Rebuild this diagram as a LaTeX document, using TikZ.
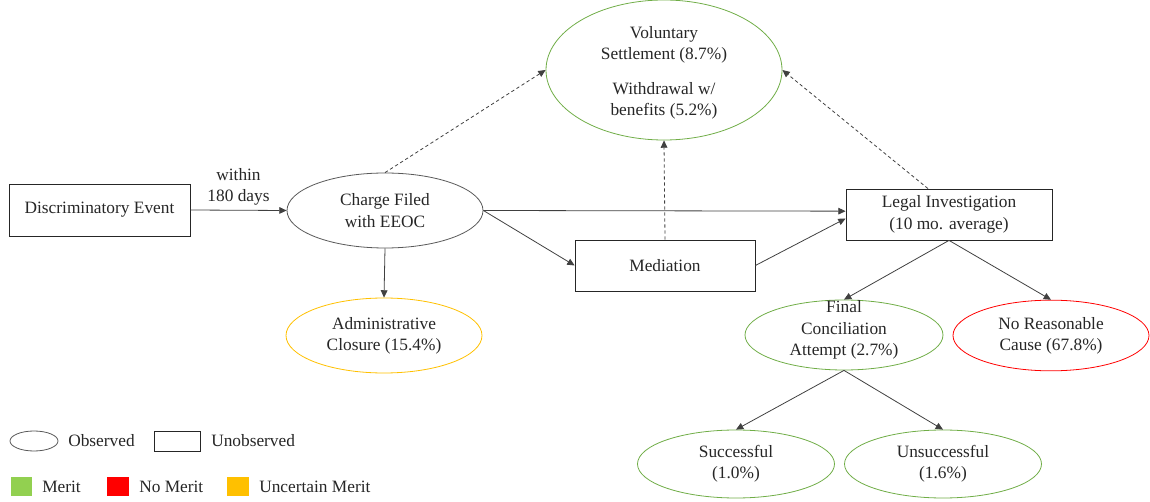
\documentclass[tikz,border=0pt]{standalone}
\usepackage{fontspec}
\setmainfont{Liberation Serif}
\usetikzlibrary{arrows.meta, shapes, positioning, calc}

\begin{document}
\begin{tikzpicture}
    [
        x=0.75pt, y=-0.75pt,
        every node/.style={font=\fontsize{13}{16}\selectfont, text=black!85, align=center},
        hidden/.style={rectangle, draw=black!85, line width=0.6pt, inner sep=0pt, minimum height=38.25pt},
        outcome/.style={ellipse, line width=0.6pt, inner sep=0pt, minimum width=147pt, minimum height=53pt},
        flow/.style={draw=black!75, line width=0.6pt, -{Triangle[length=5.5pt, width=5pt]}},
        maybe/.style={flow, dash pattern=on 2.5pt off 2pt},
        swatch/.style={rectangle, inner sep=0pt, minimum width=16pt, minimum height=14pt},
        keytext/.style={anchor=west, inner sep=0pt}
    ]
    \definecolor{meritGreen}{RGB}{112,173,71}
    \definecolor{meritFill}{RGB}{146,208,80}
    \definecolor{noMeritRed}{RGB}{255,0,0}
    \definecolor{unsureGold}{RGB}{255,192,0}
    \useasboundingbox (0,0) rectangle (1150,502);

    % main flow
    \node [hidden, minimum width=135.75pt, minimum height=39pt] (discrim) at (99.5,210) {Discriminatory Event};
    \node [outcome, draw=black!65, minimum height=56.25pt] (charge) at (385,210.5) {Charge Filed\\with EEOC};
    \node [outcome, draw=meritGreen, minimum width=177pt, minimum height=105pt] (voluntary) at (664,70) {};
    \node (voluntaryText) at (664,73) {Voluntary\\Settlement (8.7\%)\\[10pt]Withdrawal w/\\benefits (5.2\%)};
    \node [hidden, minimum width=135pt] (mediation) at (665,265.5) {Mediation};
    \node [hidden, minimum width=154.5pt] (legal) at (949,214.5) {Legal Investigation\\(10 mo. average)};
    \node [outcome, draw=unsureGold, minimum height=56.25pt] (closure) at (384,335.5) {Administrative\\Closure (15.4\%)};
    \node [outcome, draw=meritGreen, minimum width=148.5pt, minimum height=52.5pt] (conciliation) at (844,335) {};
    \node (conciliationText) at (844,330) {Final\\Conciliation\\Attempt (2.7\%)};
    \node [outcome, draw=noMeritRed] (noreason) at (1051,335.5) {No Reasonable\\Cause (67.8\%)};
    \node [outcome, draw=meritGreen, minimum width=147.75pt, minimum height=51pt] (success) at (736,464) {Successful\\(1.0\%)};
    \node [outcome, draw=meritGreen, minimum width=147.75pt, minimum height=51pt] (failure) at (943,464) {Unsuccessful\\(1.6\%)};

    \draw [flow] (discrim.east) -- node [above] {within\\180 days} (charge.west);
    \draw [flow] (charge.east) -- ([yshift=2.5pt]legal.west);
    \draw [flow] (charge.east) -- (mediation.west);
    \draw [flow] (mediation.east) -- ([yshift=-3pt]legal.west);
    \draw [flow] (charge.south) -- (closure.north);
    \draw [maybe] (charge.north) -- (voluntary.west);
    \draw [maybe] (mediation.north) -- (voluntary.south);
    \draw [maybe] ([xshift=-15.75pt]legal.north) -- (voluntary.east);
    \draw [flow] (legal.south) -- (conciliation.north);
    \draw [flow] (legal.south) -- (noreason.north);
    \draw [flow] (conciliation.south) -- (success.north);
    \draw [flow] (conciliation.south) -- (failure.north);

    % legend
    \node [outcome, draw=black!65, minimum width=36pt, minimum height=15pt] (keyObserved) at (34,441) {};
    \node [keytext] (keyObservedText) at (68,441) {Observed};
    \node [hidden, minimum width=35pt, minimum height=15pt] (keyHidden) at (177.5,441) {};
    \node [keytext] (keyHiddenText) at (211,441) {Unobserved};
    \node [swatch, fill=meritFill] (keyMerit) at (21.5,486.5) {};
    \node [keytext] (keyMeritText) at (42,487) {Merit};
    \node [swatch, fill=noMeritRed] (keyNoMerit) at (118,486.5) {};
    \node [keytext] (keyNoMeritText) at (139,487) {No Merit};
    \node [swatch, fill=unsureGold] (keyUnsure) at (238,486.5) {};
    \node [keytext] (keyUnsureText) at (259,487) {Uncertain Merit};
\end{tikzpicture}
\end{document}
